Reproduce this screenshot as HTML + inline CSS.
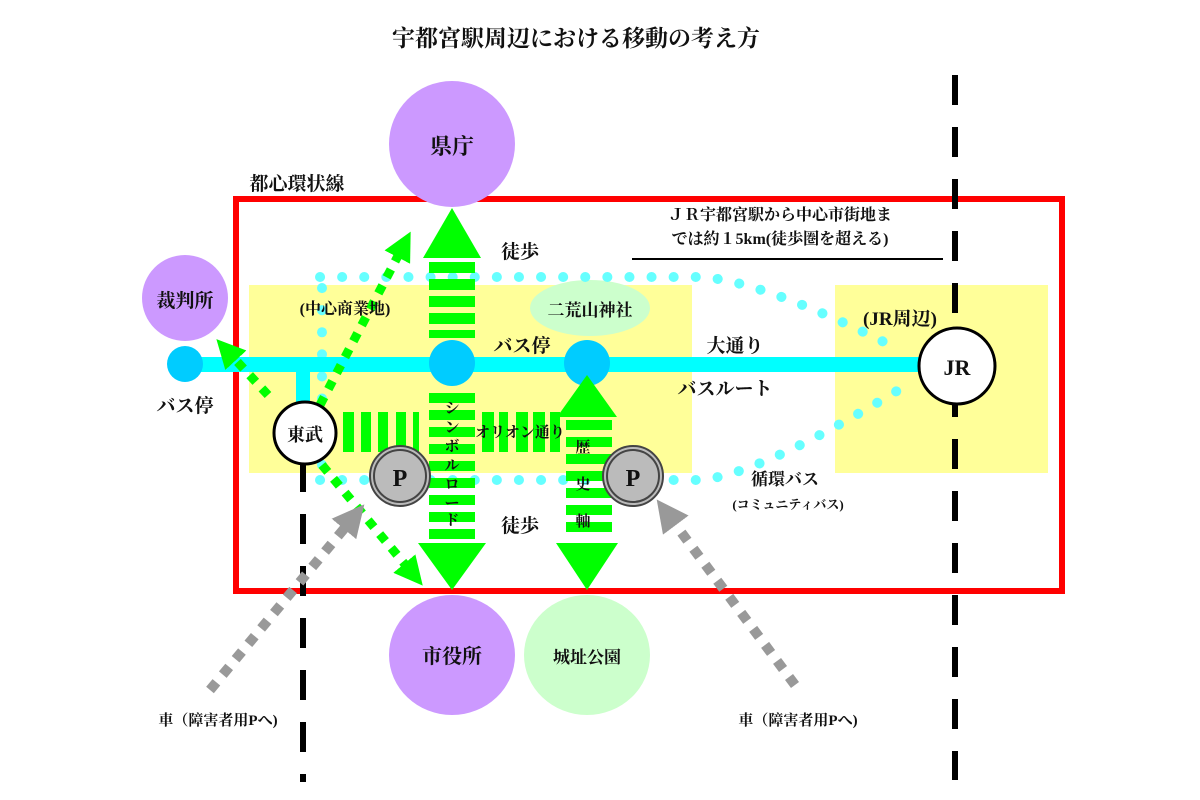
<!DOCTYPE html>
<html><head><meta charset="utf-8"><style>
html,body{margin:0;padding:0;background:#fff;width:1200px;height:800px;overflow:hidden}
svg text{font-family:"Liberation Serif","Noto Serif CJK SC","Noto Sans CJK JP",serif;font-weight:bold;fill:#111}
</style></head><body>
<svg width="1200" height="800" viewBox="0 0 1200 800" xmlns="http://www.w3.org/2000/svg">
<defs>
<marker id="ga" viewBox="0 0 10 10" markerWidth="3.2" markerHeight="3.2" refX="2" refY="5" orient="auto" markerUnits="strokeWidth"><path d="M0,0 L10,5 L0,10 Z" fill="#00ff00"/></marker>
<marker id="gr" viewBox="0 0 10 10" markerWidth="3.2" markerHeight="3.2" refX="2" refY="5" orient="auto" markerUnits="strokeWidth"><path d="M0,0 L10,5 L0,10 Z" fill="#999"/></marker>
</defs>
<text x="576" y="46" font-size="23" text-anchor="middle">宇都宮駅周辺における移動の考え方</text>

<rect x="249" y="285" width="443" height="188" fill="#ffff99"/>
<rect x="835" y="285" width="213" height="188" fill="#ffff99"/>

<rect x="236" y="199" width="826" height="392" fill="none" stroke="#ff0000" stroke-width="6"/>

<circle cx="452" cy="144" r="63" fill="#cc99ff"/>
<text x="452" y="154" font-size="22" text-anchor="middle">県庁</text>
<circle cx="185" cy="298" r="43" fill="#cc99ff"/>
<text x="185" y="307" font-size="19" text-anchor="middle">裁判所</text>
<ellipse cx="452" cy="655" rx="63" ry="60" fill="#cc99ff"/>
<text x="452" y="663" font-size="20" text-anchor="middle">市役所</text>
<ellipse cx="587" cy="655" rx="63" ry="60" fill="#ccffcc"/>
<text x="587" y="663" font-size="17" text-anchor="middle">城址公園</text>
<ellipse cx="590" cy="308" rx="60" ry="28" fill="#ccffcc"/>
<text x="590" y="316" font-size="17" text-anchor="middle">二荒山神社</text>

<g fill="none" stroke="#66ffff" stroke-width="10" stroke-linecap="round" stroke-dasharray="0.1 22">
<path d="M320,277 L700,277 Q760,280 890,345"/>
<path d="M320,480 L700,480 Q760,475 905,386"/>
<path d="M322,288 L322,470"/>
</g>

<g stroke="#000" stroke-width="6" stroke-dasharray="30 22">
<line x1="955" y1="75" x2="955" y2="780"/>
<line x1="303" y1="462" x2="303" y2="782"/>
</g>

<rect x="185" y="357" width="735" height="15" fill="#00ffff"/>
<rect x="296" y="364" width="14" height="40" fill="#00ffff"/>
<circle cx="185" cy="364" r="18" fill="#00ccff"/>
<circle cx="452" cy="363" r="23" fill="#00ccff"/>
<circle cx="587" cy="363" r="23" fill="#00ccff"/>

<g fill="none" stroke="#00ff00" stroke-width="9" stroke-dasharray="9 9">
<path d="M320,405 L400,252" marker-end="url(#ga)"/>
<path d="M322,465 L408,568" marker-end="url(#ga)"/>
<path d="M268,395 L232,356" marker-end="url(#ga)"/>
</g>

<g fill="none" stroke="#999" stroke-width="10" stroke-dasharray="10 10">
<path d="M210,690 L348,524" marker-end="url(#gr)"/>
<path d="M795,685 L672,520" marker-end="url(#gr)"/>
</g>

<g fill="#00ff00">
<polygon points="452,208 423,258 481,258"/>
<rect x="429" y="262" width="46" height="11"/><rect x="429" y="279" width="46" height="11"/><rect x="429" y="296" width="46" height="11"/><rect x="429" y="313" width="46" height="11"/><rect x="429" y="330" width="46" height="8"/>
<rect x="429" y="393" width="46" height="10"/><rect x="429" y="410" width="46" height="10"/><rect x="429" y="427" width="46" height="10"/><rect x="429" y="444" width="46" height="10"/><rect x="429" y="461" width="46" height="10"/><rect x="429" y="478" width="46" height="10"/><rect x="429" y="495" width="46" height="10"/><rect x="429" y="512" width="46" height="10"/><rect x="429" y="529" width="46" height="10"/>
<polygon points="418,543 486,543 452,590"/>
<polygon points="587,375 557,417 617,417"/>
<rect x="566" y="420" width="46" height="10"/><rect x="566" y="437" width="46" height="10"/><rect x="566" y="454" width="46" height="10"/><rect x="566" y="471" width="46" height="10"/><rect x="566" y="488" width="46" height="10"/><rect x="566" y="505" width="46" height="10"/><rect x="566" y="522" width="46" height="10"/>
<polygon points="556,543 618,543 587,590"/>
<rect x="343" y="412" width="11" height="40"/><rect x="361" y="412" width="10" height="40"/><rect x="378" y="412" width="10" height="40"/><rect x="396" y="412" width="10" height="40"/><rect x="413" y="412" width="6" height="40"/>
<rect x="482" y="412" width="12" height="40"/><rect x="499" y="412" width="9" height="40"/><rect x="516" y="412" width="12" height="40"/><rect x="533" y="412" width="12" height="40"/><rect x="550" y="412" width="10" height="40"/>
</g>

<circle cx="305" cy="433" r="31" fill="#fff" stroke="#000" stroke-width="3"/>
<text x="305" y="441" font-size="18" text-anchor="middle">東武</text>
<circle cx="957" cy="366" r="38" fill="#fff" stroke="#000" stroke-width="3"/>
<text x="957" y="375" font-size="22" text-anchor="middle">JR</text>

<g>
<circle cx="400" cy="476" r="30" fill="#bbb" stroke="#444" stroke-width="2"/>
<circle cx="400" cy="476" r="26" fill="none" stroke="#444" stroke-width="2"/>
<text x="400" y="486" font-size="24" text-anchor="middle">P</text>
<circle cx="633" cy="476" r="30" fill="#bbb" stroke="#444" stroke-width="2"/>
<circle cx="633" cy="476" r="26" fill="none" stroke="#444" stroke-width="2"/>
<text x="633" y="486" font-size="24" text-anchor="middle">P</text>
</g>

<text x="297" y="190" font-size="19" text-anchor="middle">都心環状線</text>
<text x="520" y="258" font-size="19" text-anchor="middle">徒歩</text>
<text x="520" y="532" font-size="19" text-anchor="middle">徒歩</text>
<text x="345" y="314" font-size="16" text-anchor="middle">(中心商業地)</text>
<text x="522" y="352" font-size="19" text-anchor="middle">バス停</text>
<text x="185" y="412" font-size="19" text-anchor="middle">バス停</text>
<text x="735" y="352" font-size="19" text-anchor="middle">大通り</text>
<text x="725" y="395" font-size="19" text-anchor="middle">バスルート</text>
<text x="520" y="437" font-size="15" text-anchor="middle">オリオン通り</text>
<g font-size="15" text-anchor="middle">
<text x="452" y="413">シ</text><text x="452" y="432">ン</text><text x="452" y="451">ボ</text><text x="452" y="470">ル</text><text x="452" y="489">ロ</text><text x="452" y="508">ー</text><text x="452" y="525">ド</text>
</g>
<text x="583" y="452" font-size="15" text-anchor="middle">歴</text>
<text x="583" y="489" font-size="15" text-anchor="middle">史</text>
<text x="583" y="526" font-size="15" text-anchor="middle">軸</text>
<text x="780" y="220" font-size="16" text-anchor="middle">ＪＲ宇都宮駅から中心市街地ま</text>
<text x="780" y="244" font-size="16" text-anchor="middle">では約１5km(徒歩圏を超える)</text>
<line x1="632" y1="259" x2="943" y2="259" stroke="#000" stroke-width="2"/>
<text x="900" y="325" font-size="19" text-anchor="middle">(JR周辺)</text>
<text x="785" y="485" font-size="17" text-anchor="middle">循環バス</text>
<text x="788" y="509" font-size="13" text-anchor="middle">(コミュニティバス)</text>
<text x="218" y="725" font-size="15" text-anchor="middle">車（障害者用Pへ)</text>
<text x="798" y="725" font-size="15" text-anchor="middle">車（障害者用Pへ)</text>
</svg>
</body></html>
